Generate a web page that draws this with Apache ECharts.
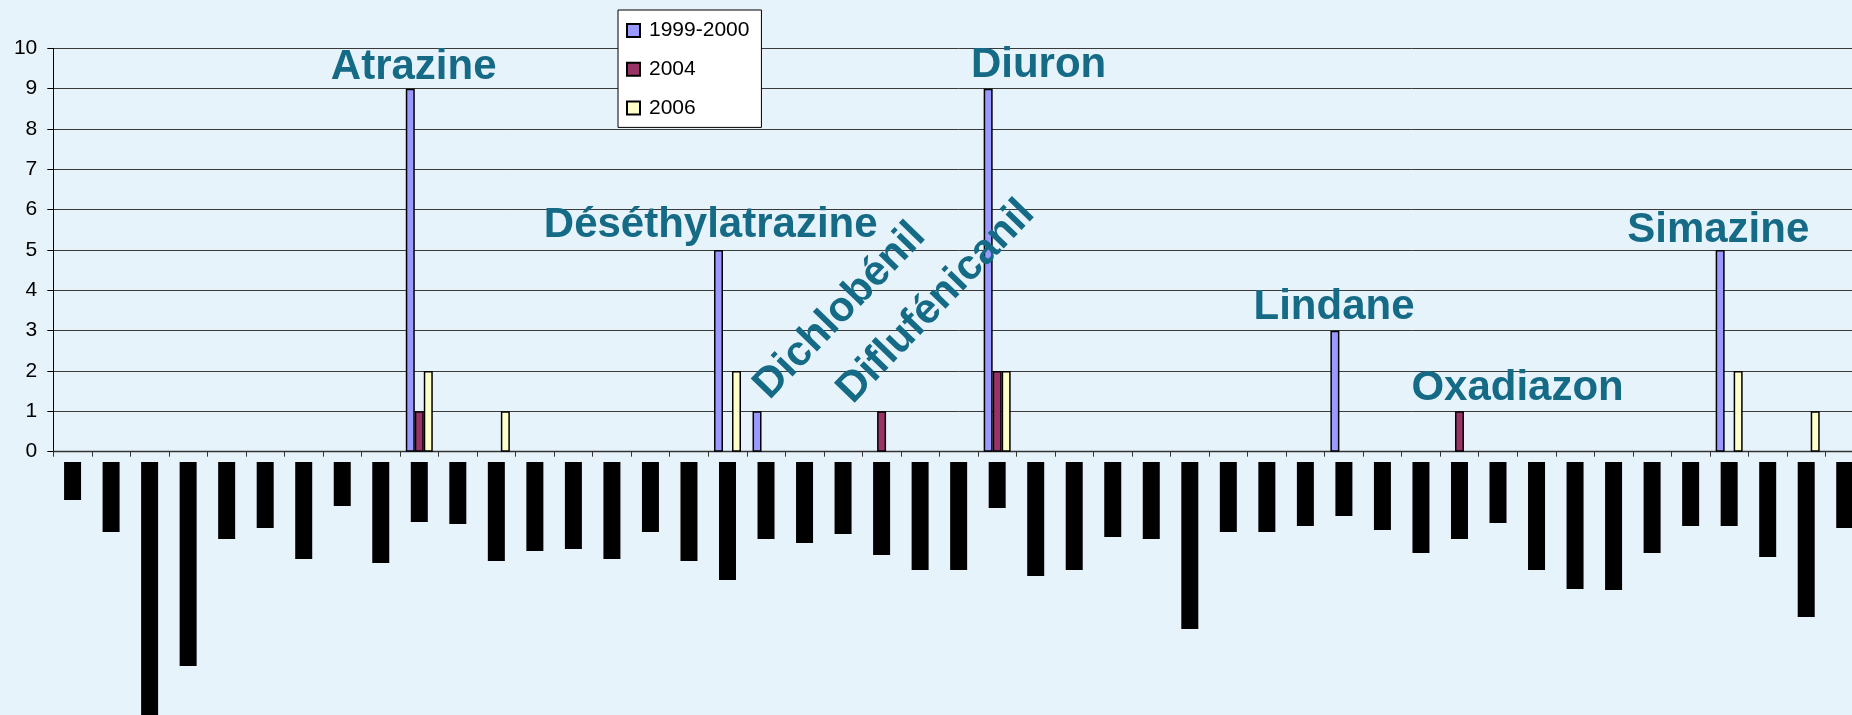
<!DOCTYPE html>
<html><head><meta charset="utf-8">
<script src="https://cdn.jsdelivr.net/npm/echarts@6/dist/echarts.min.js"></script>
<style>html,body{margin:0;padding:0;background:#e7f3fb;overflow:hidden;width:1852px;height:715px}#c{width:1864px;height:715px}</style>
</head><body><div id="c"></div>
<script>
// ---- data ----
const categories = ['1','2','3','4','5','6','7','8','9','10','11','12','13','14','15','16','17','18','19','20','21','22','23','24','25','26','27','28','29','30','31','32','33','34','35','36','37','38','39','40','41','42','43','44','45','46','47'];
const seriesNames = ['1999-2000', '2004', '2006'];
const values1999 = [0,0,0,0,0,0,0,0,0,9,0,0,0,0,0,0,0,5,1,0,0,0,0,0,9,0,0,0,0,0,0,0,0,3,0,0,0,0,0,0,0,0,0,5,0,0,0];
const values2004 = [0,0,0,0,0,0,0,0,0,1,0,0,0,0,0,0,0,0,0,0,0,1,0,0,2,0,0,0,0,0,0,0,0,0,0,0,1,0,0,0,0,0,0,0,0,0,0];
const values2006 = [0,0,0,0,0,0,0,0,0,2,0,1,0,0,0,0,0,2,0,0,0,0,0,0,2,0,0,0,0,0,0,0,0,0,0,0,0,0,0,0,0,0,0,2,0,1,0];
// hidden (blacked-out) category label lengths
const labelStripLengths = [38,70,260,204,77,66,97,44,101,60,62,99,89,87,97,70,99,118,77,81,72,93,108,108,46,114,108,75,77,167,70,70,64,54,68,91,77,61,108,127,128,91,64,64,95,155,66];
const compoundNames = ['Atrazine','Déséthylatrazine','Dichlobénil','Diflufénicanil','Diuron','Lindane','Oxadiazon','Simazine'];
const compoundCategory = [9,17,18,21,24,33,36,43];
const compoundValue = [9,5,1,1,9,3,1,5];

// ---- styling / layout ----
const FONT = "'Liberation Sans', Arial, sans-serif";
const colors = ['#9999ff', '#993366', '#ffffcc'];
const labelLayout = [
  {dx: -5.6, dy: -21.1, rot: 0},
  {dx: -16.8, dy: -24.9, rot: 0},
  {dx: 73.8, dy: -100.4, rot: 46},
  {dx: 54.3, dy: -109.4, rot: 46},
  {dx: 41.4, dy: -22.8, rot: 0},
  {dx: -9.9, dy: -23.2, rot: 0},
  {dx: 58.1, dy: -22.9, rot: 0},
  {dx: -10.9, dy: -19.2, rot: 0}
];
const PLOT_LEFT = 53.3;

const chart = echarts.init(document.getElementById('c'), null, {renderer: 'canvas'});
const toData = arr => arr.map(v => v === 0 ? null : v);
const barSeries = [values1999, values2004, values2006].map((vals, i) => ({
  name: seriesNames[i],
  type: 'bar',
  xAxisIndex: 0, yAxisIndex: 0,
  data: toData(vals),
  barWidth: 9,
  barGap: '0%',
  itemStyle: {color: colors[i], borderColor: '#000', borderWidth: 1.5},
  emphasis: {disabled: true},
  animation: false
}));

const option = {
  backgroundColor: '#e7f3fb',
  animation: false,
  textStyle: {fontFamily: FONT},
  grid: [
    {left: PLOT_LEFT, right: 0, top: 48.3, height: 403.4, containLabel: false},
    {left: PLOT_LEFT, right: 0, top: 462, height: 253, containLabel: false}
  ],
  legend: {
    data: seriesNames,
    orient: 'vertical',
    left: 618, top: 10,
    padding: [10, 12, 9, 8],
    itemGap: 17.7,
    itemWidth: 13, itemHeight: 13,
    icon: 'rect',
    backgroundColor: '#ffffff',
    borderColor: '#000', borderWidth: 1,
    textStyle: {fontSize: 21, color: '#000', fontFamily: FONT, padding: [0, 0, 0, 4]},
    selectedMode: false
  },
  xAxis: [
    {gridIndex: 0, type: 'category', data: categories, boundaryGap: true,
     axisLine: {show: true, lineStyle: {color: '#333', width: 1.3}},
     axisTick: {show: true, length: 5, lineStyle: {color: '#333'}},
     axisLabel: {show: false}, splitLine: {show: false}},
    {gridIndex: 1, type: 'category', data: categories, boundaryGap: true,
     axisLine: {show: false}, axisTick: {show: false}, axisLabel: {show: false}}
  ],
  yAxis: [
    {gridIndex: 0, type: 'value', min: 0, max: 10, interval: 1,
     axisLine: {show: true, lineStyle: {color: '#000', width: 1}},
     axisTick: {show: true, length: 6, lineStyle: {color: '#000'}},
     axisLabel: {fontSize: 21, color: '#000', fontFamily: FONT, margin: 16},
     splitLine: {show: true, lineStyle: {color: '#3a3a3a', width: 1}}},
    {gridIndex: 1, type: 'value', min: 0, max: 253, inverse: true, show: false,
     splitLine: {show: false}}
  ],
  series: barSeries.concat([{
    name: 'labels',
    type: 'bar',
    xAxisIndex: 1, yAxisIndex: 1,
    data: labelStripLengths,
    barWidth: 17,
    clip: true,
    itemStyle: {color: '#000'},
    emphasis: {disabled: true},
    animation: false
  }])
};
chart.setOption(option);

const graphics = compoundNames.map((name, i) => {
  const p = chart.convertToPixel({xAxisIndex: 0, yAxisIndex: 0}, [compoundCategory[i], compoundValue[i]]);
  const L = labelLayout[i];
  return {
    type: 'text',
    x: p[0] + L.dx, y: p[1] + L.dy,
    rotation: L.rot * Math.PI / 180,
    silent: true,
    style: {
      text: name,
      fill: '#156a86',
      font: "bold 42px 'Liberation Sans', Arial, sans-serif",
      align: 'center',
      verticalAlign: 'middle'
    },
    z: 100
  };
});
chart.setOption({graphic: graphics});
</script>
</body></html>
